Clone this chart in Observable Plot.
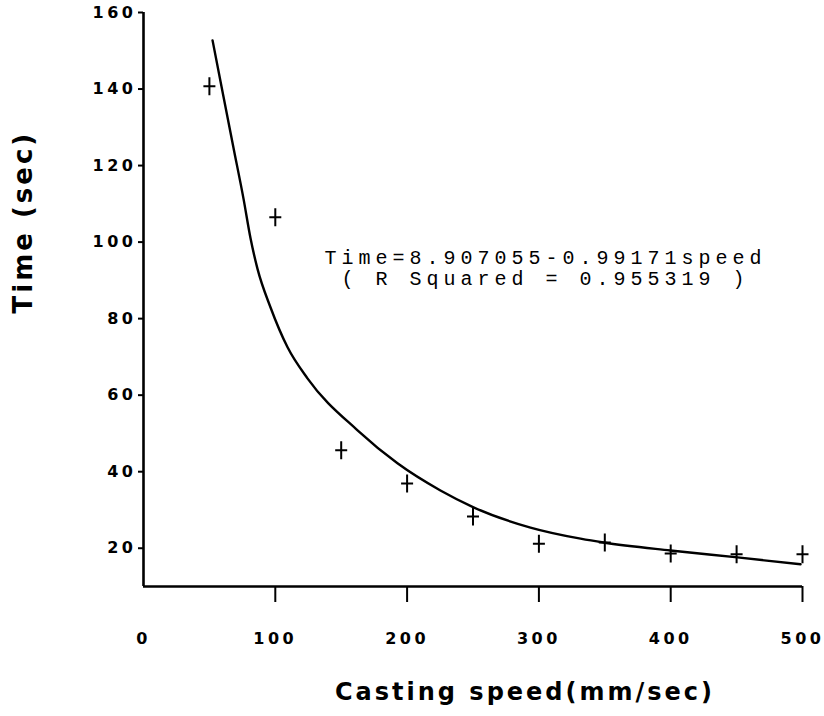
<!DOCTYPE html>
<html><head><meta charset="utf-8">
<script src="https://cdn.jsdelivr.net/npm/d3@7"></script>
<script src="https://cdn.jsdelivr.net/npm/@observablehq/plot@0.6"></script>
<style>
html,body{margin:0;padding:0;background:#fff;}
#chart svg{display:block;}
</style></head><body><div id="chart"></div>
<script>
// measured points (+)
const speeds = [50, 100, 150, 200, 250, 300, 350, 400, 450, 500];
const times = [140.7, 106.5, 45.6, 36.9, 28.3, 21.2, 21.5, 18.6, 18.4, 18.4];
// fitted curve
const fitSpeeds = [52.4, 60.7, 68.3, 75.9, 81.2, 86.5, 96.4, 109.3, 124.4, 162.4, 192.7, 225.3, 250.4, 293.6, 331.6, 349.0, 399.8, 450.7, 498.5];
const fitTimes = [152.7, 138.0, 124.6, 111.3, 101.0, 93.0, 82.9, 72.5, 64.4, 50.8, 42.2, 35.1, 30.7, 25.4, 22.5, 21.5, 19.4, 17.6, 15.8];
const xTicks = [0, 100, 200, 300, 400, 500];
const yTicks = [20, 40, 60, 80, 100, 120, 140, 160];
const xTitle = "Casting speed(mm/sec)";
const yTitle = "Time (sec)";
const annotation = ["Time=8.907055-0.99171speed", "( R Squared = 0.955319 )"];

const points = speeds.map((s, i) => ({speed: s, time: times[i]}));
const fit = fitSpeeds.map((s, i) => ({speed: s, time: fitTimes[i]}));

const plusSymbol = {
  draw(ctx) {
    ctx.moveTo(-6, 0); ctx.lineTo(6, 0);
    ctx.moveTo(0, -9); ctx.lineTo(0, 9);
  }
};

const chart = Plot.plot({
  width: 824, height: 716,
  marginLeft: 143, marginRight: 22, marginTop: 12, marginBottom: 130,
  x: {domain: [0, 500]},
  y: {domain: [10, 160]},
  style: {background: "#fff", color: "#000", fontFamily: "DejaVu Sans"},
  marks: [
    Plot.axisX({ticks: xTicks.filter(d => d > 0), tickSize: 16, strokeWidth: 2, tickFormat: () => "", label: null}),
    Plot.axisX({ticks: xTicks, tickSize: 0, tickPadding: 46, fontSize: 16, fontWeight: "bold", label: null}),
    Plot.axisY({ticks: yTicks, tickSize: 5, tickPadding: 2, strokeWidth: 2, fontSize: 16, fontWeight: "bold", label: null}),
    Plot.ruleX([0], {strokeWidth: 2.6}),
    Plot.ruleY([10], {strokeWidth: 2.6}),
    Plot.line(fit, {x: "speed", y: "time", curve: "monotone-x", strokeWidth: 2.4, stroke: "#000"}),
    Plot.dot(points, {x: "speed", y: "time", symbol: plusSymbol, fill: "none", stroke: "#000", strokeWidth: 2}),
    Plot.text([annotation.join("\n")], {text: d => d, frameAnchor: "top-left", dx: 402, dy: 236, textAnchor: "middle", lineAnchor: "top", lineHeight: 1.08, fontFamily: "Liberation Mono", fontSize: 20, fill: "#000"}),
    Plot.text([xTitle], {text: d => d, frameAnchor: "bottom", dx: 52, dy: 96, lineAnchor: "top", fontSize: 24, fontWeight: "bold", fill: "#000"}),
    Plot.text([yTitle], {text: d => d, frameAnchor: "left", textAnchor: "start", dx: -120, dy: 14, rotate: -90, fontSize: 26, fontWeight: "bold", fill: "#000"})
  ]
});
document.getElementById("chart").appendChild(chart);
const svg = d3.select(chart);
svg.selectAll('g[aria-label="x-axis tick label"] text, g[aria-label="y-axis tick label"] text').attr("letter-spacing", "3.5px");
svg.selectAll('g[aria-label="text"] text').each(function() {
  const t = d3.select(this);
  const s = t.text();
  if (s.startsWith("Time=")) t.attr("letter-spacing", "5px");
  else t.attr("letter-spacing", "3px");
});
</script></body></html>
